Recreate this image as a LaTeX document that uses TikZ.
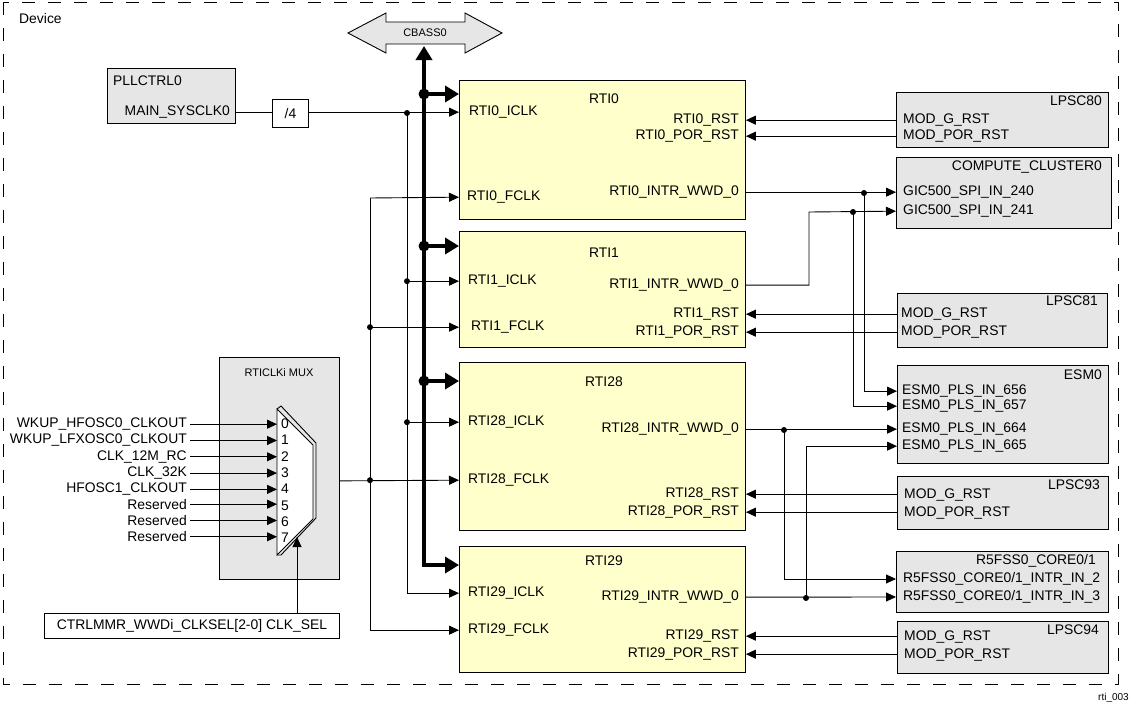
\documentclass[tikz,border=0pt]{standalone}
\usepackage{fontspec}
\setmainfont{Liberation Sans}
\usetikzlibrary{arrows.meta}
\definecolor{rtiyellow}{HTML}{FFFFCC}
\definecolor{boxgray}{HTML}{E6E6E6}
\begin{document}
\begin{tikzpicture}[x=1pt,y=-1pt, font=\fontsize{13.9}{15}\selectfont,
  box/.style={draw, line width=0.9pt, anchor=north west, inner sep=0pt},
  rtibox/.style={box, fill=rtiyellow},
  gbx/.style={box, fill=boxgray},
  lw/.style={inner sep=0pt, anchor=mid west},
  le/.style={inner sep=0pt, anchor=mid east},
  sig/.style={line width=0.9pt},
  arr/.style={sig, -{Triangle[length=10pt,width=9pt]}},
  busl/.style={line width=4pt},
  busarr/.style={busl, -{Triangle[length=14pt,width=16pt]}},
  dot/.style={circle, fill, inner sep=0pt, minimum size=6pt},
  bdot/.style={circle, fill, inner sep=0pt, minimum size=11pt},
  small/.style={font=\fontsize{11}{13}\selectfont},
  devborder/.style={line width=1pt, dash pattern=on 13pt off 13pt},
]
\useasboundingbox (0,0) rectangle (1129,704);
\draw[devborder] (3,2) rectangle (1118,684);
\node[lw] (device) at (19,21) {Device};
\node[inner sep=0pt, anchor=mid east, font=\fontsize{10}{12}\selectfont] (tag) at (1129,698) {rti\_003};

% CBASS0
\draw[line width=0.9pt, fill=boxgray] (348,33) -- (386,13) -- (386,22) -- (465,22) -- (465,13) -- (502,33) -- (465,53) -- (465,44) -- (386,44) -- (386,53) -- cycle;
\node[small, inner sep=0pt] (cbass) at (425,33) {CBASS0};
\coordinate (cbin) at (424,46);

% PLLCTRL0 and divider
\node[gbx, minimum width=128pt, minimum height=55pt] (pll) at (107,68) {};
\node[lw] (pllt) at (113,83) {PLLCTRL0};
\node[le] (mainclk) at (230,113) {MAIN\_SYSCLK0};
\node[box, fill=white, minimum width=36pt, minimum height=28pt] (div) at (272,99) {/4};

% RTI boxes
\node[rtibox, minimum width=286pt, minimum height=139pt] (rti0) at (459,80) {};
\node[rtibox, minimum width=286pt, minimum height=116pt] (rti1) at (459,231) {};
\node[rtibox, minimum width=286pt, minimum height=168pt] (rti28) at (459,362) {};
\node[rtibox, minimum width=286pt, minimum height=126pt] (rti29) at (459,546) {};

\node[inner sep=0pt] (t0) at (604,99) {RTI0};
\node[lw] (iclk0) at (469,113) {RTI0\_ICLK};
\node[lw] (fclk0) at (467,198) {RTI0\_FCLK};
\node[le] (rst0) at (739,121) {RTI0\_RST};
\node[le] (por0) at (739,137) {RTI0\_POR\_RST};
\node[le] (intr0) at (739,193) {RTI0\_INTR\_WWD\_0};

\node[inner sep=0pt] (t1) at (604,253) {RTI1};
\node[lw] (iclk1) at (468,282) {RTI1\_ICLK};
\node[lw] (fclk1) at (471,328) {RTI1\_FCLK};
\node[le] (intr1) at (739,286) {RTI1\_INTR\_WWD\_0};
\node[le] (rst1) at (739,315) {RTI1\_RST};
\node[le] (por1) at (739,333) {RTI1\_POR\_RST};

\node[inner sep=0pt] (t28) at (604,382) {RTI28};
\node[lw] (iclk28) at (468,423) {RTI28\_ICLK};
\node[lw] (fclk28) at (468,481) {RTI28\_FCLK};
\node[le] (intr28) at (739,430) {RTI28\_INTR\_WWD\_0};
\node[le] (rst28) at (739,495) {RTI28\_RST};
\node[le] (por28) at (739,513) {RTI28\_POR\_RST};

\node[inner sep=0pt] (t29) at (604,561) {RTI29};
\node[lw] (iclk29) at (468,594) {RTI29\_ICLK};
\node[lw] (fclk29) at (468,631) {RTI29\_FCLK};
\node[le] (intr29) at (739,598) {RTI29\_INTR\_WWD\_0};
\node[le] (rst29) at (739,637) {RTI29\_RST};
\node[le] (por29) at (739,655) {RTI29\_POR\_RST};

% right boxes
\node[gbx, minimum width=212pt, minimum height=55pt] (lpsc80) at (896,92) {};
\node[le] (l80t) at (1102,103) {LPSC80};
\node[lw] (g80) at (903,121) {MOD\_G\_RST};
\node[lw] (p80) at (903,137) {MOD\_POR\_RST};

\node[gbx, minimum width=215pt, minimum height=71pt] (cc0) at (896,157) {};
\node[le] (cct) at (1102,168) {COMPUTE\_CLUSTER0};
\node[lw] (g240) at (903,193) {GIC500\_SPI\_IN\_240};
\node[lw] (g241) at (903,212) {GIC500\_SPI\_IN\_241};

\node[gbx, minimum width=210pt, minimum height=54pt] (lpsc81) at (897,293) {};
\node[le] (l81t) at (1098,303) {LPSC81};
\node[lw] (g81) at (901,315) {MOD\_G\_RST};
\node[lw] (p81) at (901,333) {MOD\_POR\_RST};

\node[gbx, minimum width=211pt, minimum height=98pt] (esm0) at (897,365) {};
\node[le] (esmt) at (1102,377) {ESM0};
\node[lw] (e656) at (902,392) {ESM0\_PLS\_IN\_656};
\node[lw] (e657) at (902,407) {ESM0\_PLS\_IN\_657};
\node[lw] (e664) at (902,430) {ESM0\_PLS\_IN\_664};
\node[lw] (e665) at (902,447) {ESM0\_PLS\_IN\_665};

\node[gbx, minimum width=211pt, minimum height=53pt] (lpsc93) at (897,476) {};
\node[le] (l93t) at (1100,487) {LPSC93};
\node[lw] (g93) at (904,496) {MOD\_G\_RST};
\node[lw] (p93) at (904,514) {MOD\_POR\_RST};

\node[gbx, minimum width=212pt, minimum height=61pt] (r5) at (896,551) {};
\node[le] (r5t) at (1096,562) {R5FSS0\_CORE0/1};
\node[lw] (in2) at (903,580) {R5FSS0\_CORE0/1\_INTR\_IN\_2};
\node[lw] (in3) at (903,598) {R5FSS0\_CORE0/1\_INTR\_IN\_3};

\node[gbx, minimum width=211pt, minimum height=52pt] (lpsc94) at (897,621) {};
\node[le] (l94t) at (1099,632) {LPSC94};
\node[lw] (g94) at (904,638) {MOD\_G\_RST};
\node[lw] (p94) at (904,656) {MOD\_POR\_RST};

% reset arrows
\foreach \src/\dst/\lab in {lpsc80/rti0/rst0, lpsc80/rti0/por0, lpsc81/rti1/rst1, lpsc81/rti1/por1,
  lpsc93/rti28/rst28, lpsc93/rti28/por28, lpsc94/rti29/rst29, lpsc94/rti29/por29}
  \draw[arr] (\src.west |- \lab) -- (\dst.east |- \lab);

% interrupt lines
\coordinate (v656) at (864,193);
\coordinate (v657) at (853,212);
\coordinate (v1) at (809,212);
\coordinate (v28) at (784,430);
\coordinate (v29) at (806,598);
\draw[arr] (rti0.east |- intr0) -- (cc0.west |- g240);
\draw[arr] (rti1.east |- intr1) -- (v1 |- intr1) -- (v1) -- (cc0.west |- g241);
\draw[arr] (v656) -- (v656 |- e656) -- (esm0.west |- e656);
\draw[arr] (v657) -- (v657 |- e657) -- (esm0.west |- e657);
\draw[arr] (rti28.east |- intr28) -- (esm0.west |- e664);
\draw[arr] (v28) -- (v28 |- in2) -- (r5.west |- in2);
\draw[arr] (rti29.east |- intr29) -- (r5.west |- in3);
\draw[arr] (v29) -- (v29 |- e665) -- (esm0.west |- e665);
\foreach \c in {v656, v657, v28, v29} \node[dot] at (\c) {};

% ICLK distribution
\coordinate (ibus) at (407,113);
\draw[sig] (pll.east |- mainclk) -- (div.west |- mainclk);
\draw[arr] (div.east |- mainclk) -- (rti0.west |- iclk0);
\draw[arr] (ibus) -- (ibus |- iclk29) -- (rti29.west |- iclk29);
\draw[arr] (ibus |- iclk1) -- (rti1.west |- iclk1);
\draw[arr] (ibus |- iclk28) -- (rti28.west |- iclk28);
\node[dot] at (ibus) {};
\node[dot] at (ibus |- iclk1) {};
\node[dot] at (ibus |- iclk28) {};

% FCLK distribution
\coordinate (fbus) at (370,198);
\coordinate (muxout) at (316,481);
\draw[arr] (fbus) -- (rti0.west |- fclk0);
\draw[arr] (fbus) -- (fbus |- fclk29) -- (rti29.west |- fclk29);
\draw[arr] (fbus |- fclk1) -- (rti1.west |- fclk1);
\draw[arr] (muxout) -- (rti28.west |- fclk28);
\node[dot] at (fbus |- fclk1) {};
\node[dot] at (fbus |- fclk28) {};

% CBASS bus
\coordinate (b0) at (424,94);
\coordinate (b1) at (424,246);
\coordinate (b28) at (424,381);
\coordinate (b29) at (424,565);
\draw[busl, line join=miter, {Triangle[length=14pt,width=16pt]}-{Triangle[length=14pt,width=16pt]}] (cbin) -- (b29) -- (rti29.west |- b29);
\foreach \b/\r in {b0/rti0, b1/rti1, b28/rti28} {
  \draw[busarr] (\b) -- (\r.west |- \b);
  \node[bdot] at (\b) {};
}

% MUX
\node[gbx, minimum width=120pt, minimum height=222pt] (muxbox) at (219,357) {};
\node[small, inner sep=0pt] (muxt) at (279,373) {RTICLKi MUX};
\draw[sig] (277,409) -- (281,406) -- (316,443) -- (316,518) -- (281,555) -- (277,555);
\draw[sig, fill=white] (277,409) -- (313,445) -- (313,519) -- (277,555) -- cycle;
\coordinate (muxl) at (277,409);
\coordinate (muxsel) at (297,537);
\foreach \i/\t in {0/WKUP\_HFOSC0\_CLKOUT, 1/WKUP\_LFXOSC0\_CLKOUT, 2/CLK\_12M\_RC, 3/CLK\_32K,
  4/HFOSC1\_CLKOUT, 5/Reserved, 6/Reserved, 7/Reserved} {
  \node[inner sep=0pt, inner xsep=3pt, anchor=mid east] (in\i) at (190,{425+16.3*\i}) {\t};
  \node[lw] (n\i) at (281,{426+16.3*\i}) {\i};
  \draw[arr] (in\i.east) -- (muxl |- in\i.east);
}
\node[box, fill=white, minimum width=295pt, minimum height=25pt] (ctrl) at (44,613) {CTRLMMR\_WWDi\_CLKSEL[2-0] CLK\_SEL};
\draw[arr] (ctrl.north -| muxsel) -- (muxsel);
\end{tikzpicture}
\end{document}
